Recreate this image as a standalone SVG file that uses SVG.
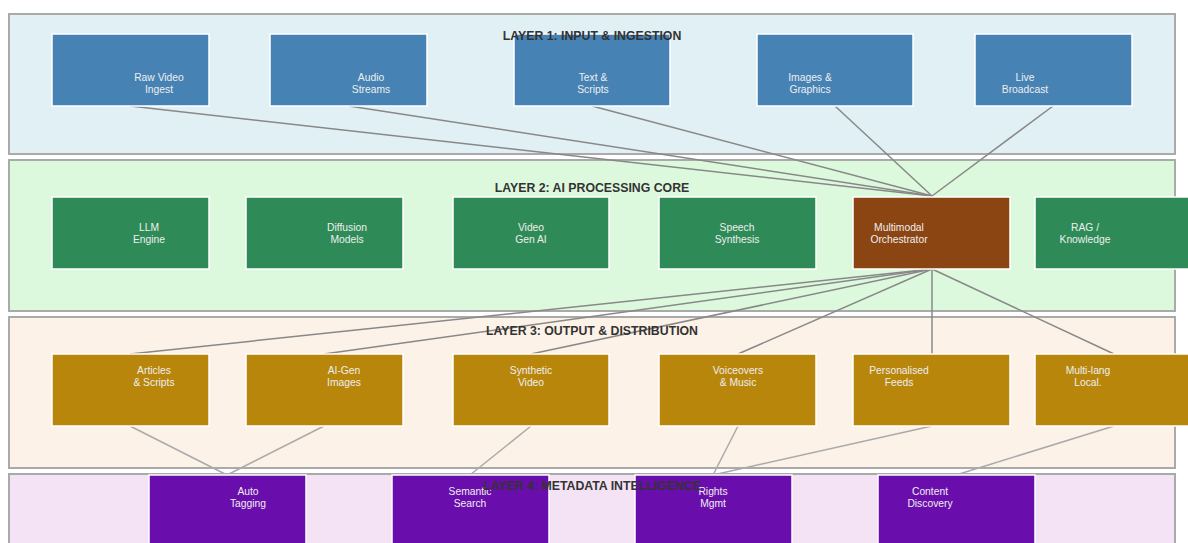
<svg xmlns="http://www.w3.org/2000/svg" width="1188" height="543" viewBox="0 0 1188 543">
<style>
.band{stroke:#aaaaaa;stroke-width:2}
.node{stroke:#ffffff;stroke-width:1.5}
.nt{font-family:"Liberation Sans",Arial,sans-serif;font-size:10.3px;fill:#eeeeee;text-anchor:middle}
.title{font-family:"Liberation Sans",Arial,sans-serif;font-size:12.3px;font-weight:bold;fill:#333333;text-anchor:middle}
.c1{stroke:#888888;stroke-width:1.5;fill:none}
.c2{stroke:#aaaaaa;stroke-width:1.5;fill:none}
</style>
<rect width="1188" height="543" fill="#ffffff"/>
<g id="bands">
<rect class="band" x="9" y="14" width="1166" height="140" fill="#e1f0f5"/>
<rect class="band" x="9" y="160" width="1166" height="151" fill="#ddf9dd"/>
<rect class="band" x="9" y="317" width="1166" height="151" fill="#fdf2e7"/>
<rect class="band" x="9" y="474" width="1166" height="80" fill="#f4e2f5"/>
</g>
<g id="connectors">
<line class="c1" x1="130" y1="106" x2="932" y2="196"/>
<line class="c1" x1="349" y1="106" x2="932" y2="196"/>
<line class="c1" x1="592" y1="106" x2="932" y2="196"/>
<line class="c1" x1="835" y1="106" x2="932" y2="196"/>
<line class="c1" x1="1053" y1="106" x2="932" y2="196"/>
<line class="c1" x1="932" y1="269" x2="130" y2="354"/>
<line class="c1" x1="932" y1="269" x2="324" y2="354"/>
<line class="c1" x1="932" y1="269" x2="531" y2="354"/>
<line class="c1" x1="932" y1="269" x2="738" y2="354"/>
<line class="c1" x1="932" y1="269" x2="932" y2="354"/>
<line class="c1" x1="932" y1="269" x2="1114" y2="354"/>
<line class="c2" x1="130" y1="426" x2="227" y2="475"/>
<line class="c2" x1="324" y1="426" x2="227" y2="475"/>
<line class="c2" x1="531" y1="426" x2="470" y2="475"/>
<line class="c2" x1="738" y1="426" x2="713" y2="475"/>
<line class="c2" x1="932" y1="426" x2="713" y2="475"/>
<line class="c2" x1="1114" y1="426" x2="956" y2="475"/>
</g>
<g id="raw-video"><rect class="node" x="52" y="34" width="157" height="72" fill="#4682b4"/><text class="nt" x="159" y="81">Raw Video</text><text class="nt" x="159" y="93">Ingest</text></g>
<g id="audio"><rect class="node" x="270" y="34" width="157" height="72" fill="#4682b4"/><text class="nt" x="371" y="81">Audio</text><text class="nt" x="371" y="93">Streams</text></g>
<g id="text-scripts"><rect class="node" x="514" y="34" width="156" height="72" fill="#4682b4"/><text class="nt" x="593" y="81">Text &amp;</text><text class="nt" x="593" y="93">Scripts</text></g>
<g id="images"><rect class="node" x="757" y="34" width="156" height="72" fill="#4682b4"/><text class="nt" x="810" y="81">Images &amp;</text><text class="nt" x="810" y="93">Graphics</text></g>
<g id="live"><rect class="node" x="975" y="34" width="157" height="72" fill="#4682b4"/><text class="nt" x="1025" y="81">Live</text><text class="nt" x="1025" y="93">Broadcast</text></g>
<g id="llm"><rect class="node" x="52" y="197" width="157" height="72" fill="#2e8b57"/><text class="nt" x="149" y="231">LLM</text><text class="nt" x="149" y="243">Engine</text></g>
<g id="diffusion"><rect class="node" x="246" y="197" width="157" height="72" fill="#2e8b57"/><text class="nt" x="347" y="231">Diffusion</text><text class="nt" x="347" y="243">Models</text></g>
<g id="videogen"><rect class="node" x="453" y="197" width="156" height="72" fill="#2e8b57"/><text class="nt" x="531" y="231">Video</text><text class="nt" x="531" y="243">Gen AI</text></g>
<g id="speech"><rect class="node" x="659" y="197" width="157" height="72" fill="#2e8b57"/><text class="nt" x="737" y="231">Speech</text><text class="nt" x="737" y="243">Synthesis</text></g>
<g id="orchestrator"><rect class="node" x="853" y="197" width="157" height="72" fill="#8b4513"/><text class="nt" x="899" y="231">Multimodal</text><text class="nt" x="899" y="243">Orchestrator</text></g>
<g id="rag"><rect class="node" x="1035" y="197" width="160" height="72" fill="#2e8b57"/><text class="nt" x="1085" y="231">RAG /</text><text class="nt" x="1085" y="243">Knowledge</text></g>
<g id="articles"><rect class="node" x="52" y="354" width="157" height="72" fill="#b8860b"/><text class="nt" x="154" y="374">Articles</text><text class="nt" x="154" y="386">&amp; Scripts</text></g>
<g id="aigen"><rect class="node" x="246" y="354" width="157" height="72" fill="#b8860b"/><text class="nt" x="344" y="374">AI-Gen</text><text class="nt" x="344" y="386">Images</text></g>
<g id="synthetic"><rect class="node" x="453" y="354" width="156" height="72" fill="#b8860b"/><text class="nt" x="531" y="374">Synthetic</text><text class="nt" x="531" y="386">Video</text></g>
<g id="voiceovers"><rect class="node" x="659" y="354" width="157" height="72" fill="#b8860b"/><text class="nt" x="738" y="374">Voiceovers</text><text class="nt" x="738" y="386">&amp; Music</text></g>
<g id="personalised"><rect class="node" x="853" y="354" width="157" height="72" fill="#b8860b"/><text class="nt" x="899" y="374">Personalised</text><text class="nt" x="899" y="386">Feeds</text></g>
<g id="multilang"><rect class="node" x="1035" y="354" width="160" height="72" fill="#b8860b"/><text class="nt" x="1088" y="374">Multi-lang</text><text class="nt" x="1088" y="386">Local.</text></g>
<g id="autotag"><rect class="node" x="149" y="475" width="157" height="80" fill="#6a0dad"/><text class="nt" x="248" y="495">Auto</text><text class="nt" x="248" y="507">Tagging</text></g>
<g id="semantic"><rect class="node" x="392" y="475" width="157" height="80" fill="#6a0dad"/><text class="nt" x="470" y="495">Semantic</text><text class="nt" x="470" y="507">Search</text></g>
<g id="rights"><rect class="node" x="635" y="475" width="157" height="80" fill="#6a0dad"/><text class="nt" x="713" y="495">Rights</text><text class="nt" x="713" y="507">Mgmt</text></g>
<g id="discovery"><rect class="node" x="878" y="475" width="157" height="80" fill="#6a0dad"/><text class="nt" x="930" y="495">Content</text><text class="nt" x="930" y="507">Discovery</text></g>
<g id="titles">
<text class="title" x="592" y="40">LAYER 1: INPUT &amp; INGESTION</text>
<text class="title" x="592" y="192">LAYER 2: AI PROCESSING CORE</text>
<text class="title" x="592" y="335">LAYER 3: OUTPUT &amp; DISTRIBUTION</text>
<text class="title" x="592" y="490">LAYER 4: METADATA INTELLIGENCE</text>
</g>
</svg>
